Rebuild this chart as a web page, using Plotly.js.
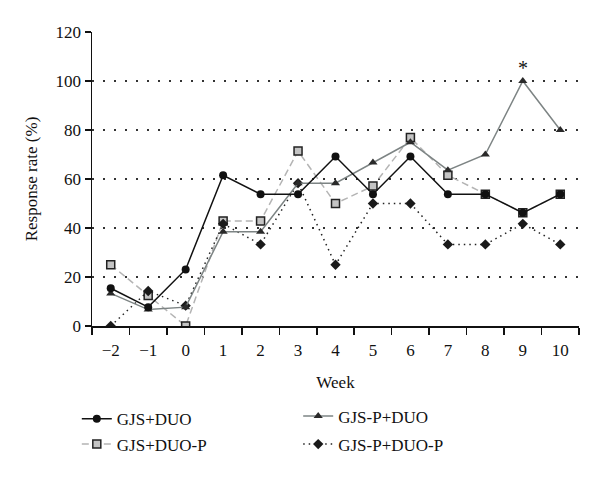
<!DOCTYPE html>
<html>
<head>
<meta charset="utf-8">
<script src="https://cdn.plot.ly/plotly-3.0.1.min.js"></script>
<style>html,body{margin:0;padding:0;background:#fff}#chart{width:600px;height:478px}</style>
</head>
<body>
<div id="chart"></div>
<script>
var weeks = ["\u22122", "\u22121", "0", "1", "2", "3", "4", "5", "6", "7", "8", "9", "10"];
var gjsDuo     = [15.4, 7.7, 23.1, 61.5, 53.8, 53.8, 69.2, 53.8, 69.2, 53.8, 53.8, 46.2, 53.8];
var gjsDuoP    = [25.0, 12.5, 0.0, 42.9, 42.9, 71.4, 50.0, 57.1, 76.9, 61.5, 53.8, 46.2, 53.8];
var gjsPDuo    = [13.3, 6.7, 7.7, 38.5, 38.5, 58.3, 58.3, 66.7, 75.0, 63.6, 70.0, 100.0, 80.0];
var gjsPDuoP   = [0.0, 14.3, 8.3, 41.7, 33.3, 58.3, 25.0, 50.0, 50.0, 33.3, 33.3, 41.7, 33.3];
var yTicks = [0, 20, 40, 60, 80, 100, 120];
var starWeek = "9";

var font = "'Liberation Serif', 'DejaVu Serif', serif";

var traces = [
  {x: weeks, y: gjsDuoP, name: "GJS+DUO-P", mode: "lines+markers", legend: "legend", legendgroup: "a2", legendrank: 2,
   line: {color: "#b4b4b4", width: 1.5, dash: "7px,4px"},
   marker: {symbol: "square", size: 8, color: "#c4c4c4", line: {color: "#222", width: 1.5}}},
  {x: weeks, y: gjsPDuoP, name: "GJS-P+DUO-P", mode: "lines+markers", legend: "legend2", legendgroup: "b2", legendrank: 4,
   line: {color: "#222", width: 1.5, dash: "1.5px,4px"},
   marker: {symbol: "diamond", size: 8, color: "#1a1a1a"}},
  {x: weeks, y: gjsPDuo, name: "GJS-P+DUO", mode: "lines+markers", legend: "legend2", legendgroup: "b1", legendrank: 3,
   line: {color: "#7d8484", width: 1.5},
   marker: {symbol: "triangle-up", size: 8, color: "#2a2a2a"}},
  {x: weeks, y: gjsDuo, name: "GJS+DUO", mode: "lines+markers", legend: "legend", legendgroup: "a1", legendrank: 1,
   line: {color: "#111", width: 1.5},
   marker: {symbol: "circle", size: 8, color: "#111"}}
];

var layout = {
  width: 600, height: 478,
  paper_bgcolor: "#fff", plot_bgcolor: "#fff",
  font: {family: font, size: 17, color: "#111"},
  margin: {l: 92, r: 21, t: 31.5, b: 152.3, autoexpand: false},
  showlegend: true,
  legend: {
    xref: "paper", yref: "paper",
    x: -0.0312, y: -0.2559, xanchor: "left", yanchor: "top",
    orientation: "v", traceorder: "normal", tracegroupgap: 0,
    font: {family: font, size: 17, color: "#111"},
    bgcolor: "rgba(0,0,0,0)", itemwidth: 30
  },
  legend2: {
    xref: "paper", yref: "paper",
    x: 0.4234, y: -0.2464, xanchor: "left", yanchor: "top",
    orientation: "v", traceorder: "grouped", tracegroupgap: 3,
    font: {family: font, size: 17, color: "#111"},
    bgcolor: "rgba(0,0,0,0)", itemwidth: 30
  },
  xaxis: {
    type: "category", categoryorder: "array", categoryarray: weeks,
    range: [-0.5, 12.5], automargin: false,
    showline: true, linecolor: "#111", linewidth: 1.5,
    ticks: "outside", tickson: "boundaries", ticklen: 7, tickwidth: 1.5, tickcolor: "#111",
    ticklabelstandoff: 8,
    showgrid: false, zeroline: false,
    tickfont: {family: font, size: 17, color: "#111"},
    title: {text: "Week", font: {family: font, size: 17, color: "#111"}}
  },
  yaxis: {
    range: [0, 120], tickvals: yTicks, ticktext: yTicks.map(String), automargin: true,
    showline: true, linecolor: "#111", linewidth: 1.5,
    ticks: "outside", ticklen: 6, tickwidth: 1.5, tickcolor: "#111",
    showgrid: true, gridcolor: "#333", gridwidth: 1.5, griddash: "1.5px,9.5px",
    zeroline: false,
    tickfont: {family: font, size: 17, color: "#111"},
    title: {text: "Response rate (%)", standoff: 13, font: {family: font, size: 17, color: "#111"}}
  },
  annotations: [
    {x: weeks.indexOf(starWeek), y: 100, xref: "x", yref: "y", text: "*", showarrow: false,
     yanchor: "bottom", yshift: 0, font: {family: font, size: 20, color: "#111"}}
  ]
};

Plotly.newPlot("chart", traces, layout, {displayModeBar: false, staticPlot: true});
</script>
</body>
</html>
